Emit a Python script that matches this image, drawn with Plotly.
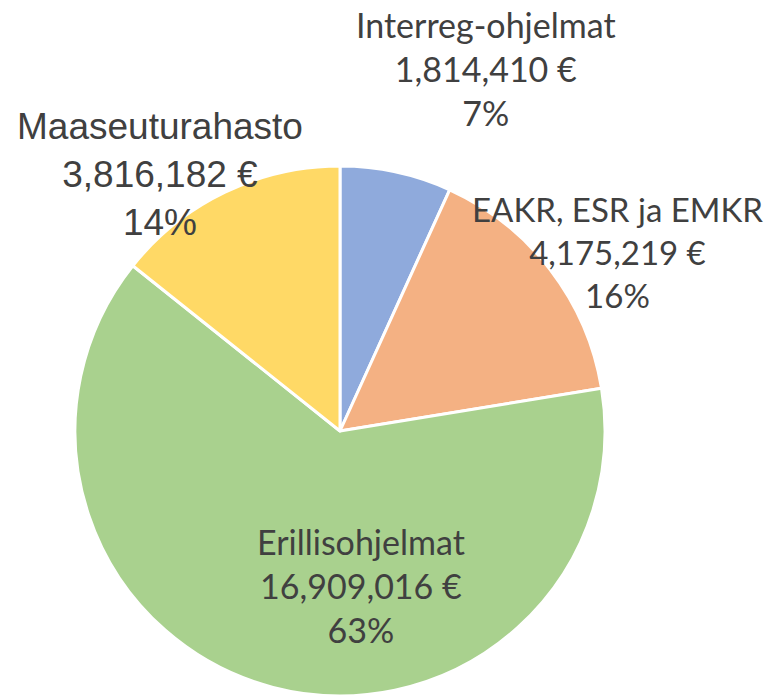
import plotly.graph_objects as go

labels = ["Interreg-ohjelmat", "EAKR, ESR ja EMKR", "Erillisohjelmat", "Maaseuturahasto"]
values = [1814410, 4175219, 16909016, 3816182]

colors = ["#8faadc", "#f4b183", "#a9d18e", "#ffd966"]

W, H = 766, 696
cx, top = 340, 166
half_w = 267

# label placement (pixel centres) and fonts
label_pos = [(486, 68), (617, 252), (361, 585), (160, 175)]
label_font = [("Lato, Carlito, Calibri, sans-serif", 34),
              ("Lato, Carlito, Calibri, sans-serif", 33),
              ("Lato, Carlito, Calibri, sans-serif", 34),
              ("Liberation Sans, Arial, sans-serif", 37)]

total = sum(values)

fig = go.Figure(go.Pie(
    labels=labels, values=values, sort=False, direction="clockwise", rotation=0,
    marker=dict(colors=colors, line=dict(color="white", width=3)),
    textinfo="none", hoverinfo="label+value+percent", showlegend=False,
    domain=dict(x=[(cx - half_w) / W, (cx + half_w) / W], y=[0, 1 - top / H]),
))

for lab, val, (px, py), (fam, size) in zip(labels, values, label_pos, label_font):
    pct = round(val / total * 100)
    txt = f"{lab}<br>{val:,} €<br>{pct}%"
    fig.add_annotation(x=px / W, y=1 - py / H, xref="paper", yref="paper",
                       text=txt, showarrow=False, xanchor="center", yanchor="middle",
                       font=dict(family=fam, size=size, color="#404040"))

fig.update_layout(width=W, height=H, margin=dict(l=0, r=0, t=0, b=0),
                  paper_bgcolor="white", plot_bgcolor="white")
fig.write_html("out.html", config={"displayModeBar": False},
               post_script="document.body.style.margin='0';document.body.style.overflow='hidden';")
